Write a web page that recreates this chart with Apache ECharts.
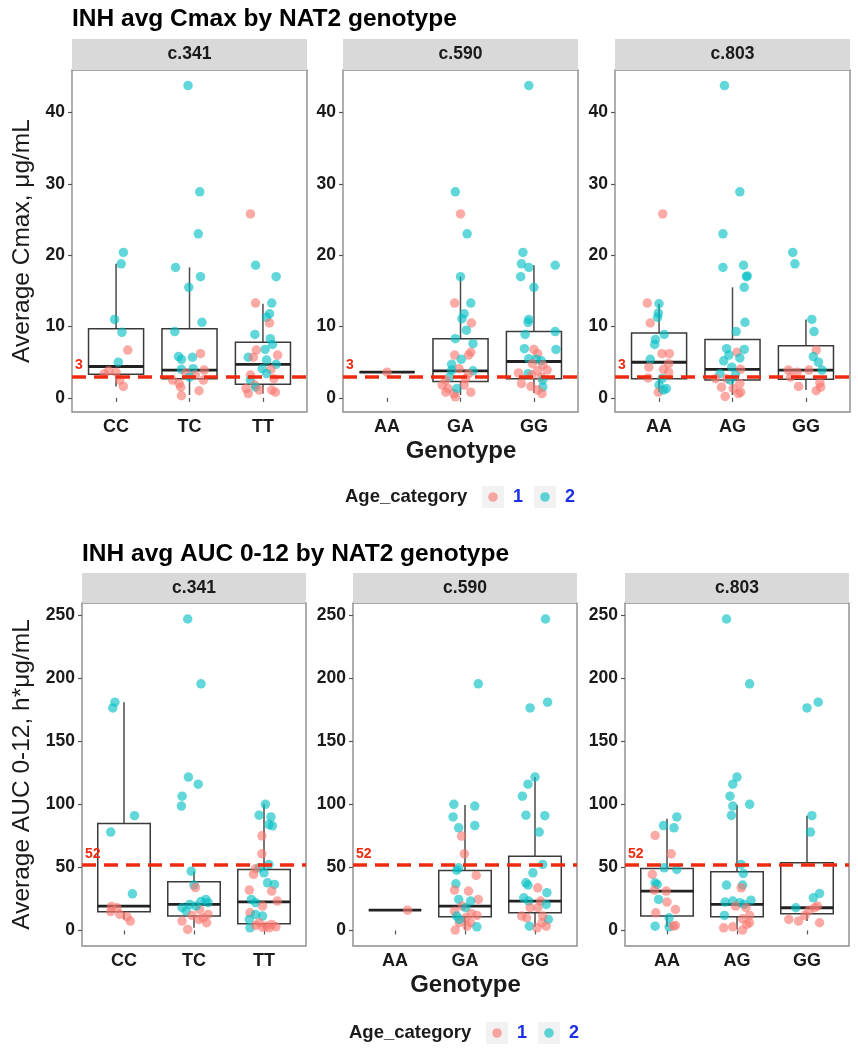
<!DOCTYPE html>
<html><head><meta charset="utf-8">
<script src="https://cdn.jsdelivr.net/npm/echarts@6/dist/echarts.min.js"></script>
<style>html,body{margin:0;padding:0;background:#fff}#chart{width:858px;height:1050px}</style>
</head><body><div id="chart"></div>
<script>
// ---------------- DATA ----------------
const genes = ['c.341', 'c.590', 'c.803'];
const genotypes341 = ['CC', 'TC', 'TT'];
const genotypes590 = ['AA', 'GA', 'GG'];
const genotypes803 = ['AA', 'AG', 'GG'];
const ageCategories = ['1', '2'];
const cmaxTicks = [0, 10, 20, 30, 40];
const aucTicks = [0, 50, 100, 150, 200, 250];
const cmaxThreshold = 3;
const aucThreshold = 52;
const cmaxTitle = 'INH avg Cmax by NAT2 genotype';
const aucTitle = 'INH avg AUC 0-12 by NAT2 genotype';
const cmaxYName = 'Average Cmax, \u03bcg/mL';
const aucYName = 'Average AUC 0-12, h*\u03bcg/mL';
const xName = 'Genotype';
const legendName = 'Age_category';

// box stats per genotype: [lower whisker, Q1, median, Q3, upper whisker]
const cmaxBox341 = [[1.6, 3.3, 4.4, 9.7, 18.8], [0.4, 2.7, 3.9, 9.7, 18.3], [0.6, 1.9, 4.7, 7.8, 13.2]];
const cmaxBox590 = [[3.6, 3.6, 3.6, 3.6, 3.6], [0.4, 2.3, 3.8, 8.3, 17.0], [0.7, 2.7, 5.1, 9.3, 18.6]];
const cmaxBox803 = [[0.8, 2.7, 5.0, 9.1, 13.2], [0.4, 2.5, 4.0, 8.2, 15.5], [1.1, 2.6, 3.9, 7.3, 11.0]];
const aucBox341 = [[8.7, 14.8, 19.3, 84.8, 181], [2.1, 11.4, 20.6, 38.6, 46.5], [2.1, 5.3, 22.7, 48.4, 100]];
const aucBox590 = [[16.1, 16.1, 16.1, 16.1, 16.1], [0.3, 10.8, 19.3, 47.6, 99.4], [2.9, 14.0, 23.3, 58.9, 121.6]];
const aucBox803 = [[2.9, 11.4, 31.2, 49.2, 88.5], [0.8, 10.8, 20.6, 46.5, 99.4], [7.4, 13.2, 18.0, 53.6, 91]];

// jittered points: [genotype position (1..3) + jitter, value, age category]
const cmax341 = [
  [1.10,20.4,2],[1.07,18.8,2],[0.98,11.0,2],[1.08,9.2,2],[1.03,5.0,2],[1.16,6.7,1],[0.90,3.8,1],[1.00,3.6,1],[1.05,2.5,1],[1.10,1.6,1],[0.84,3.4,1],
  [1.98,43.8,2],[2.14,28.9,2],[2.12,23.0,2],[1.81,18.3,2],[2.15,17.0,2],[1.99,15.5,2],[2.17,10.6,2],[1.80,9.3,2],[1.85,5.8,2],[1.89,5.4,2],[2.04,5.7,2],[2.15,6.2,1],[1.89,4.0,2],[2.05,4.1,2],[1.77,2.5,1],[1.86,2.0,1],[1.88,1.5,1],[1.89,0.3,1],[2.13,1.0,1],[2.19,2.5,1],[2.20,3.9,1],[2.08,3.2,1],[1.95,3.5,1],[2.00,2.9,2],
  [2.83,25.8,1],[2.90,18.6,2],[3.18,17.0,2],[2.90,13.3,1],[3.12,13.3,2],[3.09,11.8,2],[3.05,11.3,2],[3.09,10.5,1],[2.89,8.9,2],[3.10,8.3,2],[3.13,7.5,2],[3.03,6.8,2],[2.91,6.7,1],[3.20,6.0,1],[2.80,5.7,2],[2.87,5.7,1],[3.05,5.3,2],[3.18,4.7,2],[2.99,4.1,2],[3.11,4.0,1],[2.83,3.2,1],[3.05,3.4,2],[3.15,2.7,1],[2.83,2.5,2],[2.89,1.8,1],[2.90,1.5,2],[2.77,1.3,1],[2.80,0.6,1],[3.12,1.1,1],[3.17,0.8,1],[2.95,1.1,1]
];
const cmax590 = [
  [1.00,3.6,1],
  [1.93,28.9,2],[2.00,25.8,1],[2.09,23.0,2],[2.00,17.0,2],[2.14,13.3,2],[1.92,13.3,1],[2.05,11.8,2],[2.02,11.1,2],[2.15,10.5,1],[2.08,9.5,2],[1.93,8.3,2],[2.17,7.6,2],[2.14,6.4,1],[2.11,6.0,1],[1.92,6.0,1],[2.01,5.4,2],[1.88,4.7,2],[1.98,4.1,1],[2.17,3.8,2],[2.11,3.4,1],[1.85,2.9,2],[1.80,2.5,1],[1.75,1.8,1],[1.83,1.3,1],[1.91,0.6,1],[1.80,0.8,1],[2.05,1.8,1],[2.14,0.8,1],[1.95,1.3,2],[1.93,0.15,1],[2.07,2.7,1],[1.88,3.9,2],
  [2.93,43.8,2],[2.85,20.4,2],[2.83,18.8,2],[2.93,18.3,2],[3.29,18.6,2],[2.82,17.0,2],[3.00,15.5,2],[2.93,11.0,2],[2.92,10.6,2],[3.29,9.3,2],[2.88,8.9,2],[3.30,6.8,2],[2.87,6.9,2],[3.00,6.8,1],[3.05,6.2,1],[2.93,5.5,2],[3.03,5.4,2],[3.10,5.2,2],[2.98,4.8,1],[3.12,4.6,1],[2.79,3.5,1],[3.05,3.8,1],[3.18,3.9,1],[2.92,3.4,2],[3.10,2.9,1],[3.12,2.5,2],[2.83,2.0,1],[2.96,1.6,1],[3.12,1.5,2],[3.05,1.1,1],[3.11,0.6,1],[2.97,3.2,1]
];
const cmax803 = [
  [1.05,25.8,1],[0.84,13.3,1],[1.00,13.2,2],[0.99,11.9,2],[0.98,11.3,2],[0.88,10.5,1],[1.07,8.9,2],[0.95,8.2,2],[0.94,7.5,2],[1.04,6.2,1],[1.14,6.2,1],[0.88,5.4,2],[1.13,4.8,1],[0.86,4.3,1],[1.06,4.0,1],[1.13,3.6,1],[0.85,2.8,1],[1.04,2.7,2],[1.00,1.8,2],[1.10,1.3,2],[0.99,0.8,1],[1.06,1.1,2],
  [1.89,43.8,2],[2.10,28.9,2],[1.87,23.0,2],[1.87,18.3,2],[2.15,18.6,2],[2.19,17.0,2],[2.20,17.1,2],[2.16,15.5,2],[2.17,10.6,2],[2.05,9.3,2],[1.92,6.9,2],[2.06,6.4,1],[2.16,6.8,2],[1.95,6.0,2],[2.10,5.6,2],[1.88,5.2,2],[1.99,4.3,2],[2.11,4.0,1],[1.83,3.4,2],[1.77,2.7,1],[1.92,2.7,1],[2.04,3.2,2],[2.10,2.0,1],[1.85,1.5,1],[2.01,1.3,1],[1.90,0.2,1],[2.08,0.6,1],[2.11,0.8,1],[1.97,2.5,2],
  [2.82,20.4,2],[2.85,18.8,2],[3.08,11.0,2],[3.11,9.3,2],[3.14,6.7,1],[3.10,5.8,2],[3.17,5.0,2],[3.22,3.9,2],[2.76,3.9,1],[2.88,3.6,1],[3.04,3.9,1],[2.79,2.9,1],[3.19,2.1,1],[2.90,1.6,1],[3.20,1.5,1],[3.14,1.0,1]
];
const auc341 = [
  [0.87,181,2],[0.84,176.5,2],[1.15,91,2],[0.81,78,2],[1.12,29,2],[0.82,19,1],[0.90,18,1],[0.81,15,1],[0.94,12.7,1],[1.04,11,1],[1.09,7.4,1],
  [1.91,247,2],[2.10,195.6,2],[1.92,121.6,2],[2.06,116,2],[1.83,106.5,2],[1.82,98.6,2],[1.96,47,2],[2.00,36,2],[2.02,34,1],[1.94,20.6,2],[2.17,24.6,2],[2.10,23,2],[1.83,18,2],[1.89,15.3,2],[1.97,11.9,1],[1.83,7.4,1],[1.91,0.8,1],[2.07,8.7,1],[2.18,6.1,1],[2.20,12.7,1],[2.13,10,1],[2.20,22,2],[2.08,16.6,1],[2.03,19.3,2],
  [3.02,100,2],[2.93,91.4,2],[3.10,90,2],[3.07,84,2],[3.12,83,2],[2.97,75,1],[2.97,60.8,1],[3.07,52.3,2],[2.93,49.7,2],[2.88,49,1],[3.00,45.7,2],[2.85,44.4,1],[3.05,37.8,2],[3.15,36.5,2],[3.11,31.2,1],[2.79,32,1],[3.19,23.3,1],[2.82,24.6,2],[2.88,22,2],[2.98,19.3,1],[2.80,14,1],[2.88,12.7,2],[2.98,11.4,2],[2.79,8.7,2],[2.80,2.1,2],[2.93,6.1,1],[3.03,3.4,1],[3.11,4.8,1],[3.17,2.9,1],[2.98,2.6,1],[2.88,4,1],[3.07,2.1,1]
];
const auc590 = [
  [1.18,16.1,1],
  [2.19,195.6,2],[1.84,100,2],[2.14,98.6,2],[1.83,90,2],[1.91,81.4,2],[2.14,83.2,2],[1.95,74.8,1],[1.99,60.8,1],[1.91,49.7,2],[1.88,47.8,2],[2.16,43.6,1],[1.87,37,2],[1.85,32,1],[2.05,31.2,1],[2.19,24.6,1],[1.91,24.6,2],[2.08,23.3,2],[1.96,19.3,1],[2.01,18,2],[1.85,15.3,1],[2.09,13.5,1],[2.17,11.9,1],[1.88,11.4,2],[2.01,10,1],[1.92,6.1,1],[2.08,6.1,1],[2.17,2.9,2],[1.86,0.3,1],[2.03,3.4,1],[1.92,8.7,2],
  [3.15,247,2],[3.18,181,2],[2.93,176.5,2],[3.00,121.6,2],[2.90,116,2],[2.82,106.5,2],[2.87,91.4,2],[3.14,91,2],[3.06,78,2],[3.11,52.3,2],[2.97,45.7,2],[2.87,37.8,2],[2.90,36,2],[3.04,33.8,1],[3.17,29.9,2],[2.84,25.9,2],[3.08,23.3,1],[2.91,23.3,2],[3.16,20.6,2],[2.93,18,1],[3.04,18,1],[2.81,11.4,1],[2.88,10,1],[3.10,6.1,1],[3.19,8.7,2],[2.92,3.4,2],[3.03,2.1,1],[3.16,3.4,1],[3.11,11.4,1]
];
const auc803 = [
  [1.14,90,2],[0.95,83.2,2],[1.10,81.4,2],[0.83,75.3,1],[1.06,60.8,1],[0.96,49.7,2],[1.14,48.4,2],[0.79,44.4,1],[0.83,37.8,2],[0.86,36.5,2],[0.82,32,1],[0.99,31.2,1],[0.88,24.6,2],[1.00,22.5,1],[1.12,16.6,1],[0.84,14,1],[1.03,10,2],[0.83,3.4,2],[1.03,2.9,2],[1.09,3.4,1],[1.12,4,1],
  [1.85,247,2],[2.18,195.6,2],[2.00,121.6,2],[1.94,116,2],[1.90,106.5,2],[1.94,98.6,2],[2.18,100,2],[1.92,91.2,2],[2.06,52.3,2],[2.09,45.2,2],[1.85,36,2],[2.08,36,2],[2.06,33.8,1],[2.20,24,2],[1.83,22.5,2],[1.94,23.3,2],[2.04,22,2],[1.98,19.3,1],[2.10,20.6,2],[2.13,18,1],[1.82,11.9,2],[2.18,11.9,1],[2.08,9.2,1],[2.18,6.1,1],[1.81,2.1,1],[1.94,2.9,1],[2.08,0.3,1],[2.14,4.8,1],
  [3.00,176.5,2],[3.16,181,2],[3.07,91,2],[3.05,78,2],[3.18,29.3,2],[3.09,25.9,2],[3.11,18,1],[3.15,19.3,1],[2.84,18,2],[3.03,16,1],[2.74,8.7,1],[2.88,7.4,1],[3.18,6.1,1],[2.97,11.9,1]
];

// ---------------- STYLE / LAYOUT ----------------
const FONT = '"Liberation Sans", Arial, Helvetica, sans-serif';
const PINK = '#F8766D', TEAL = '#00BFC4', RED = '#EE2B10', BLUE = '#1c2fe6';
const cmaxRange = [-1.98, 45.98];
const aucRange = [-12.35, 259.7];
const topLayout = { lefts: [72, 343, 615], width: 235, top: 70, height: 342, stripTop: 39 };
const botLayout = { lefts: [82, 353, 625], width: 224, top: 603, height: 343, stripTop: 573 };

const panels = [
  { L: topLayout, i: 0, cats: genotypes341, pts: cmax341, box: cmaxBox341, range: cmaxRange, ticks: cmaxTicks, thr: cmaxThreshold },
  { L: topLayout, i: 1, cats: genotypes590, pts: cmax590, box: cmaxBox590, range: cmaxRange, ticks: cmaxTicks, thr: cmaxThreshold },
  { L: topLayout, i: 2, cats: genotypes803, pts: cmax803, box: cmaxBox803, range: cmaxRange, ticks: cmaxTicks, thr: cmaxThreshold },
  { L: botLayout, i: 0, cats: genotypes341, pts: auc341, box: aucBox341, range: aucRange, ticks: aucTicks, thr: aucThreshold },
  { L: botLayout, i: 1, cats: genotypes590, pts: auc590, box: aucBox590, range: aucRange, ticks: aucTicks, thr: aucThreshold },
  { L: botLayout, i: 2, cats: genotypes803, pts: auc803, box: aucBox803, range: aucRange, ticks: aucTicks, thr: aucThreshold }
];

const grid = [], xAxis = [], yAxis = [], series = [], graphic = [];
const positions = [1, 2, 3];

function renderBox(params, api) {
  const x = api.value(0), lo = api.value(1), q1 = api.value(2), med = api.value(3), q3 = api.value(4), hi = api.value(5);
  const hw = 0.375;
  const tl = api.coord([x - hw, q3]), br = api.coord([x + hw, q1]);
  const ml = api.coord([x - hw, med]), mr = api.coord([x + hw, med]);
  const pHi = api.coord([x, hi]), pLo = api.coord([x, lo]);
  const pQ3 = api.coord([x, q3]), pQ1 = api.coord([x, q1]);
  const wStyle = { stroke: '#4a4a4a', lineWidth: 1.5 };
  return {
    type: 'group',
    children: [
      { type: 'line', shape: { x1: pHi[0], y1: pHi[1], x2: pQ3[0], y2: pQ3[1] }, style: wStyle },
      { type: 'line', shape: { x1: pQ1[0], y1: pQ1[1], x2: pLo[0], y2: pLo[1] }, style: wStyle },
      { type: 'rect', shape: { x: tl[0], y: tl[1], width: br[0] - tl[0], height: br[1] - tl[1] }, style: { fill: 'none', stroke: '#3a3a3a', lineWidth: 1.5 } },
      { type: 'line', shape: { x1: ml[0], y1: ml[1], x2: mr[0], y2: mr[1] }, style: { stroke: '#222', lineWidth: 2.8 } }
    ]
  };
}

panels.forEach((p, k) => {
  const left = p.L.lefts[p.i];
  grid.push({ left: left, top: p.L.top, width: p.L.width, height: p.L.height, show: true, borderColor: '#8c8c8c', borderWidth: 1.4, backgroundColor: '#fff', containLabel: false });
  xAxis.push({
    gridIndex: k, type: 'value', min: 0.4, max: 3.6,
    axisLine: { show: false },
    splitLine: { show: false },
    axisTick: { show: true, customValues: positions, length: 4, lineStyle: { color: '#555', width: 1.2 } },
    axisLabel: { customValues: positions, formatter: v => p.cats[Math.round(v) - 1], margin: 6, fontFamily: FONT, fontWeight: 'bold', fontSize: 18, color: '#1a1a1a' }
  });
  yAxis.push({
    gridIndex: k, type: 'value', min: p.range[0], max: p.range[1],
    axisLine: { show: false },
    splitLine: { show: false },
    axisTick: { show: true, customValues: p.ticks, length: 4, lineStyle: { color: '#555', width: 1.2 } },
    axisLabel: { customValues: p.ticks, margin: 7, fontFamily: FONT, fontWeight: 'bold', fontSize: 17.5, color: '#1a1a1a' }
  });
  series.push({
    type: 'custom', xAxisIndex: k, yAxisIndex: k, z: 2, silent: true,
    renderItem: renderBox,
    encode: { x: 0, y: 3 },
    data: p.box.map((b, j) => [positions[j]].concat(b))
  });
  series.push({
    type: 'scatter', xAxisIndex: k, yAxisIndex: k, z: 3, silent: true,
    symbolSize: 9.5,
    itemStyle: { color: d => d.data[2] === 1 ? PINK : TEAL, opacity: 0.62 },
    data: p.pts,
    markLine: {
      silent: true, symbol: ['none', 'none'], animation: false,
      data: [{ yAxis: p.thr }],
      lineStyle: { color: RED, width: 3.5, type: [14, 8], opacity: 1 },
      label: { show: true, position: 'insideStartTop', formatter: String(p.thr), color: RED, fontFamily: FONT, fontWeight: 'bold', fontSize: 14, distance: [3, 4] },
      emphasis: { disabled: true }
    }
  });
  // facet strip
  graphic.push({ type: 'rect', shape: { x: left, y: p.L.stripTop, width: p.L.width, height: p.L.top - p.L.stripTop }, style: { fill: '#D9D9D9' }, silent: true });
  graphic.push({ type: 'text', x: left + p.L.width / 2, y: (p.L.stripTop + p.L.top) / 2, style: { text: genes[p.i], textAlign: 'center', textVerticalAlign: 'middle', font: 'bold 17.5px ' + FONT, fill: '#1a1a1a' }, silent: true });
});

function addChartText(L, title, titleY, yName, yNameX, xNameY, legendY, legendX) {
  const right = L.lefts[2] + L.width;
  graphic.push({ type: 'text', x: L.lefts[0], y: titleY, style: { text: title, textAlign: 'left', textVerticalAlign: 'middle', font: 'bold 24.5px ' + FONT, fill: '#000' }, silent: true });
  graphic.push({ type: 'text', x: yNameX, y: L.top + L.height / 2, rotation: Math.PI / 2, style: { text: yName, textAlign: 'center', textVerticalAlign: 'middle', font: '24.5px ' + FONT, fill: '#1a1a1a' }, silent: true });
  graphic.push({ type: 'text', x: (L.lefts[0] + right) / 2, y: xNameY, style: { text: xName, textAlign: 'center', textVerticalAlign: 'middle', font: 'bold 24px ' + FONT, fill: '#1a1a1a' }, silent: true });
  graphic.push({ type: 'text', x: legendX, y: legendY, style: { text: legendName, textAlign: 'left', textVerticalAlign: 'middle', font: 'bold 18.5px ' + FONT, fill: '#1a1a1a' }, silent: true });
  const keyColors = [PINK, TEAL];
  ageCategories.forEach((c, j) => {
    const kx = legendX + 137 + j * 52;
    graphic.push({ type: 'rect', shape: { x: kx, y: legendY - 11, width: 22, height: 22 }, style: { fill: '#F2F2F2' }, silent: true });
    graphic.push({ type: 'circle', shape: { cx: kx + 11, cy: legendY, r: 4.8 }, style: { fill: keyColors[j], opacity: 0.62 }, silent: true });
    graphic.push({ type: 'text', x: kx + 31, y: legendY, style: { text: c, textAlign: 'left', textVerticalAlign: 'middle', font: 'bold 18px ' + FONT, fill: BLUE }, silent: true });
  });
}
addChartText(topLayout, cmaxTitle, 19, cmaxYName, 22, 451, 497, 345);
addChartText(botLayout, aucTitle, 554, aucYName, 22, 985, 1033, 349);

const chart = echarts.init(document.getElementById('chart'), null, { renderer: 'canvas' });
chart.setOption({
  animation: false,
  backgroundColor: '#fff',
  grid, xAxis, yAxis, series, graphic
});
</script></body></html>
